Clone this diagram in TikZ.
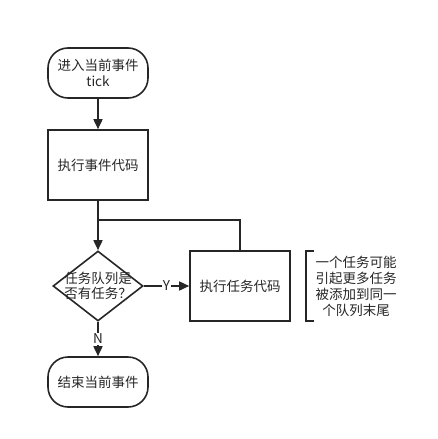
\documentclass[tikz,border=0pt]{standalone}
\usepackage{fontspec}
\setmainfont{Noto Sans CJK SC}
\usetikzlibrary{shapes.geometric,arrows.meta}
\begin{document}
\begin{tikzpicture}[x=1pt,y=-1pt,
  every node/.style={font=\fontsize{13.5}{15.5}\selectfont, text=black!85, inner sep=0pt},
  ln/.style={draw=black!85, line width=1.6pt},
  arr/.style={ln, -{Triangle[length=10pt,width=9pt]}},
  term/.style={ln, rounded corners=20pt, minimum width=100pt, minimum height=50pt, align=center},
  proc/.style={ln, minimum width=100pt, minimum height=70pt, align=center},
  dec/.style={ln, diamond, minimum width=90pt, minimum height=70pt, aspect=1.29, align=center, inner sep=0pt}]
\useasboundingbox (0,0) rectangle (438,439);
\node[term] (start) at (98,73) {进入当前事件\\tick};
\node[proc] (exec) at (98,165) {执行事件代码};
\node[dec] (q) at (98,286) {};
\node[align=center] (qt) at (98,286) {任务队列是\\否有任务？};
\node[proc] (task) at (240,286) {执行任务代码};
\node[term] (end) at (98,382) {结束当前事件};
\coordinate (loopR) at (240,220);
\coordinate (loopL) at (98,220);
\draw[arr] (start) -- (exec);
\draw[arr] (exec) -- (q);
\draw[ln] (task.north) -- (loopR) -- (loopL);
\draw[arr] (q.east) -- node[fill=white, inner sep=1pt] (y) {Y} (task.west);
\draw[arr] (q.south) -- node[fill=white, inner sep=1pt] (n) {N} (end.north);
\coordinate (b1) at (314,251);
\coordinate (b2) at (306,251);
\coordinate (b3) at (306,321);
\coordinate (b4) at (314,321);
\draw[line width=1.2pt, draw=black!85] (b1) -- (b2) -- (b3) -- (b4);
\node[align=center, font=\fontsize{13.5}{16}\selectfont] (note) at (356,286) {一个任务可能\\引起更多任务\\被添加到同一\\个队列末尾};
\end{tikzpicture}
\end{document}
